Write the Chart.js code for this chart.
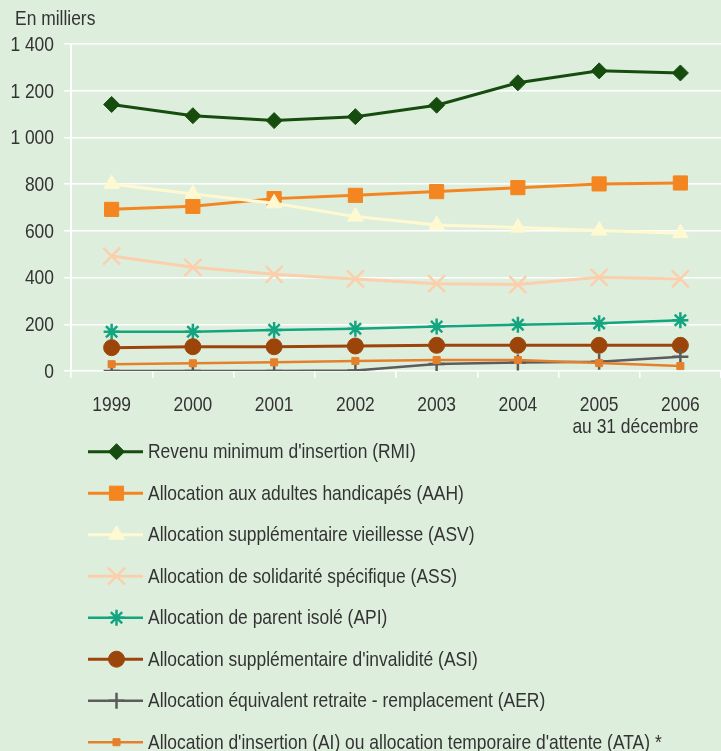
<!DOCTYPE html>
<html>
<head>
<meta charset="utf-8">
<script src="https://cdn.jsdelivr.net/npm/chart.js@4/dist/chart.umd.min.js"></script>
<style>
  html, body { margin: 0; padding: 0; background: #deeedd; }
  #wrap { width: 721px; height: 751px; position: relative; }
</style>
</head>
<body>
<div id="wrap"><canvas id="chart"></canvas></div>
<script>
// values in thousands
var years = ["1999", "2000", "2001", "2002", "2003", "2004", "2005", "2006"];
var rmi = [1141, 1093, 1072, 1089, 1138, 1234, 1285, 1276];
var aah = [692, 705, 738, 752, 768, 785, 801, 805];
var asv = [801, 758, 718, 661, 625, 614, 601, 590];
var ass = [492, 444, 414, 394, 374, 370, 401, 394];
var api = [168, 168, 176, 181, 190, 198, 204, 217];
var asi = [100, 104, 104, 107, 110, 110, 110, 110];
var aer = [0, 0, 0, 2, 30, 36, 40, 61];
var ata = [29, 33, 37, 43, 47, 47, 34, 21];

var TEXT = "#333333";
var FONT = "21px 'Liberation Sans', Arial, sans-serif";
var SQUEEZE = 0.83; // the original type is a condensed sans

function serie(label, data, color, style, radius, width) {
    return {
        label: label,
        data: data,
        borderColor: color,
        borderWidth: width,
        backgroundColor: color,
        pointStyle: style,
        pointRadius: radius,
        pointHoverRadius: radius,
        pointBackgroundColor: color,
        pointBorderColor: color,
        pointBorderWidth: style == "crossRot" || style == "star" || style == "cross" ? 2.5 : 1,
        tension: 0,
        fill: false
    };
}

var datasets = [
    serie("Revenu minimum d'insertion (RMI)", rmi, "#174c0f", "rectRot", 8, 3),
    serie("Allocation aux adultes handicapés (AAH)", aah, "#f38620", "rect", 10, 3),
    serie("Allocation supplémentaire vieillesse (ASV)", asv, "#fff9d2", "triangle", 9, 3),
    serie("Allocation de solidarité spécifique (ASS)", ass, "#fccfac", "crossRot", 12, 3),
    serie("Allocation de parent isolé (API)", api, "#13a580", "star", 8, 2.5),
    serie("Allocation supplémentaire d'invalidité (ASI)", asi, "#9c450b", "circle", 8, 3),
    serie("Allocation équivalent retraite - remplacement (AER)", aer, "#5c5c5c", "cross", 8, 2.5),
    serie("Allocation d'insertion (AI) ou allocation temporaire d'attente (ATA) *", ata, "#e4802b", "rect", 5, 2.5)
];
// later series drawn on top
datasets.forEach(function(ds, i) { ds.order = datasets.length - i; });

function fmt(v) {
    return v >= 1000 ? Math.floor(v / 1000) + " " + String(v % 1000).padStart(3, "0") : String(v);
}

function text(ctx, s, x, y, align) {
    ctx.save();
    ctx.translate(x, y);
    ctx.scale(SQUEEZE, 1);
    ctx.textAlign = align;
    ctx.fillText(s, 0, 0);
    ctx.restore();
}

var extras = {
    id: "extras",
    afterDraw: function(chart) {
        var ctx = chart.ctx;
        var xs = chart.scales.x;
        var ys = chart.scales.y;
        ctx.save();
        ctx.font = FONT;
        ctx.fillStyle = TEXT;
        ctx.textBaseline = "middle";

        text(ctx, "En milliers", 15, 19, "left");

        // axis labels, taken from the scales
        ys.ticks.forEach(function(t) {
            text(ctx, fmt(t.value), 54, ys.getPixelForValue(t.value) + 1, "right");
        });
        xs.ticks.forEach(function(t, i) {
            text(ctx, xs.getLabelForValue(t.value), xs.getPixelForTick(i), 405, "center");
        });
        text(ctx, "au 31 décembre", xs.getPixelForTick(7) + 18, 427, "right");

        // legend, one entry per line
        chart.data.datasets.forEach(function(ds, i) {
            var y = 451.7 + i * 41.5;
            ctx.strokeStyle = ds.borderColor;
            ctx.lineWidth = ds.borderWidth;
            ctx.beginPath();
            ctx.moveTo(88, y);
            ctx.lineTo(143, y);
            ctx.stroke();
            ctx.fillStyle = ds.pointBackgroundColor;
            ctx.strokeStyle = ds.pointBorderColor;
            ctx.lineWidth = ds.pointBorderWidth;
            Chart.helpers.drawPoint(ctx, {
                pointStyle: ds.pointStyle,
                radius: ds.pointRadius,
                rotation: 0,
                borderWidth: ds.pointBorderWidth
            }, 116.5, y);
            ctx.fillStyle = TEXT;
            text(ctx, ds.label, 148, y + 1, "left");
        });
        ctx.restore();
    }
};

var ctx = document.getElementById("chart").getContext("2d");
var chart = new Chart(ctx, {
    type: "line",
    data: {
        labels: years,
        datasets: datasets
    },
    options: {
        responsive: true,
        maintainAspectRatio: false,
        animation: false,
        layout: {
            autoPadding: false,
            padding: { top: 44, left: 0, right: 0, bottom: 310 }
        },
        plugins: {
            legend: { display: false },
            tooltip: { enabled: false }
        },
        scales: {
            x: {
                offset: true,
                grid: {
                    offset: true,
                    drawOnChartArea: false,
                    drawTicks: true,
                    tickLength: 7,
                    color: "#ffffff",
                    lineWidth: 1.5
                },
                border: { display: false },
                ticks: { display: false },
                afterFit: function(scale) { scale.height = 70; }
            },
            y: {
                min: 0,
                max: 1400,
                grid: {
                    color: "#ffffff",
                    lineWidth: 1.5,
                    tickLength: 7
                },
                border: { display: true, color: "#ffffff", width: 2 },
                ticks: { display: false, stepSize: 200 },
                afterFit: function(scale) { scale.width = 71; }
            }
        }
    },
    plugins: [extras]
});
</script>
</body>
</html>
